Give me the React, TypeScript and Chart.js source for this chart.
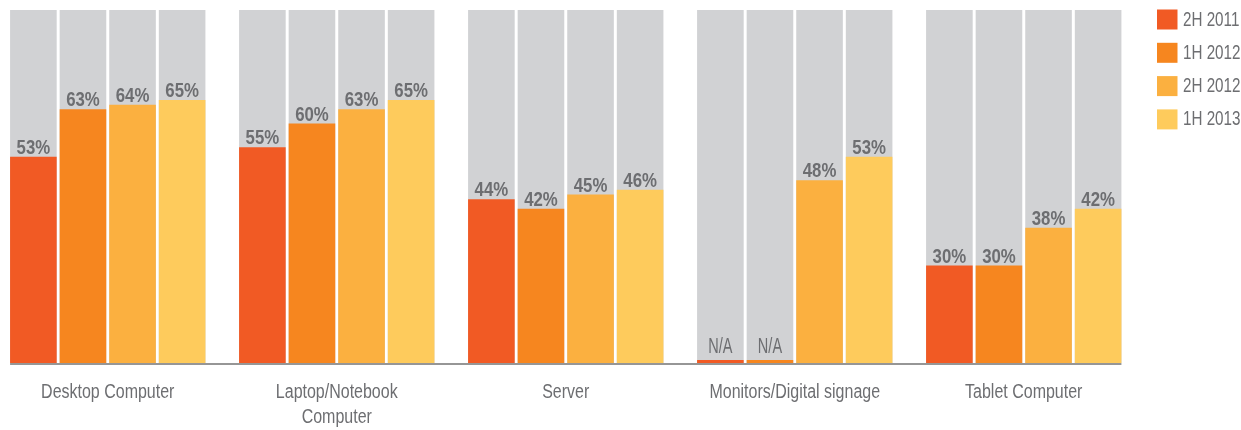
import React, { useEffect, useRef } from "react";
import { Chart, registerables } from "chart.js";

Chart.register(...registerables);

// ---- data ----
const categories: string[][] = [
  ["Desktop Computer"],
  ["Laptop/Notebook", "Computer"],
  ["Server"],
  ["Monitors/Digital signage"],
  ["Tablet Computer"],
];
const seriesNames = ["2H 2011", "1H 2012", "2H 2012", "1H 2013"];
const values2H2011: (number | null)[] = [53, 55, 44, null, 30];
const values1H2012: (number | null)[] = [63, 60, 42, null, 30];
const values2H2012: (number | null)[] = [64, 63, 45, 48, 38];
const values1H2013: (number | null)[] = [65, 65, 46, 53, 42];
const seriesValues = [values2H2011, values1H2012, values2H2012, values1H2013];

// visible value window of the value axis (the infographic's bars start above zero)
const Y_MIN = 9.4;
const Y_MAX = 84;

// ---- styles ----
const seriesColors = ["#F15A24", "#F6861F", "#FBB040", "#FECB5C"];
const trackColor = "#D1D2D4";
const textColor = "#6D6E71";
const FONT = "'Liberation Sans', Arial, sans-serif";
const CAT_PCT = 0.866;
const BAR_PCT = 0.94;
const SHIFT = 7; // canvas is placed 7px left of the page edge

function narrowText(ctx: CanvasRenderingContext2D, text: string, x: number, y: number, sx: number) {
  ctx.save();
  ctx.translate(x, y);
  ctx.scale(sx, 1);
  ctx.fillText(text, 0, 0);
  ctx.restore();
}

const labelPlugin = {
  id: "valueLabels",
  afterDatasetsDraw(chart: any) {
    const ctx = chart.ctx as CanvasRenderingContext2D;
    const area = chart.chartArea;
    const n = seriesValues.length;
    // axis line spanning the bar groups
    const firstMeta = chart.getDatasetMeta(0);
    const lastMeta = chart.getDatasetMeta(n - 1);
    const f = firstMeta.data[0] as any;
    const l = lastMeta.data[lastMeta.data.length - 1] as any;
    if (f && l) {
      ctx.save();
      ctx.strokeStyle = "rgba(110,110,110,0.72)";
      ctx.lineWidth = 2;
      ctx.beginPath();
      ctx.moveTo(f.x - f.width / 2, area.bottom + 1);
      ctx.lineTo(l.x + l.width / 2, area.bottom + 1);
      ctx.stroke();
      ctx.restore();
    }
    ctx.save();
    ctx.fillStyle = textColor;
    ctx.textAlign = "center";
    ctx.textBaseline = "alphabetic";
    // value labels
    seriesValues.forEach((vals, di) => {
      const meta = chart.getDatasetMeta(di);
      meta.data.forEach((el: any, i: number) => {
        const v = vals[i];
        if (v === null) {
          ctx.font = `22px ${FONT}`;
          narrowText(ctx, "N/A", el.x, el.y - 7, 0.66);
        } else {
          ctx.font = `bold 21px ${FONT}`;
          narrowText(ctx, `${v}%`, el.x, el.y - 3, 0.8);
        }
      });
    });
    // category labels
    const xScale = chart.scales.x;
    ctx.font = `19.5px ${FONT}`;
    ctx.textBaseline = "middle";
    categories.forEach((lines, i) => {
      const cx = xScale.getPixelForValue(i);
      lines.forEach((line, j) => {
        narrowText(ctx, line, cx, area.bottom + 29.5 + j * 25, 0.82);
      });
    });
    // legend
    const legendX = 1157 + SHIFT;
    const legendY = 9.5;
    const step = 33.3;
    ctx.font = `20px ${FONT}`;
    ctx.textAlign = "left";
    seriesNames.forEach((name, i) => {
      const top = legendY + i * step;
      ctx.fillStyle = seriesColors[i];
      ctx.fillRect(legendX, top, 20.5, 20);
      ctx.fillStyle = textColor;
      narrowText(ctx, name, legendX + 26, top + 10.5, 0.76);
    });
    ctx.restore();
  },
};

export default function App() {
  const canvasRef = useRef<HTMLCanvasElement | null>(null);

  useEffect(() => {
    if (!canvasRef.current) return;
    const valueSets = seriesValues.map((vals, i) => ({
      label: seriesNames[i],
      data: vals.map((v) => (v === null ? 0 : v)),
      backgroundColor: seriesColors[i],
      stack: "s" + i,
      categoryPercentage: CAT_PCT,
      barPercentage: BAR_PCT,
      minBarLength: 3,
      clip: 0,
      order: 0,
    }));
    const trackSets = seriesValues.map((vals, i) => ({
      label: seriesNames[i] + " track",
      data: vals.map(() => Y_MAX),
      backgroundColor: trackColor,
      stack: "s" + i,
      categoryPercentage: CAT_PCT,
      barPercentage: BAR_PCT,
      clip: 0,
      order: 1,
    }));
    const chart = new Chart(canvasRef.current, {
      type: "bar",
      data: {
        labels: categories.map((c) => c.join(" ")),
        datasets: [...valueSets, ...trackSets] as any,
      },
      options: {
        animation: false,
        responsive: true,
        maintainAspectRatio: false,
        layout: { padding: { left: 0.25, right: 102.75, top: 10, bottom: 67 } },
        plugins: {
          legend: { display: false },
          tooltip: { enabled: false },
        },
        scales: {
          x: {
            type: "category",
            offset: true,
            display: false,
            grid: { display: false },
          },
          y: {
            min: Y_MIN,
            max: Y_MAX,
            stacked: false,
            display: false,
          },
        },
      } as any,
      plugins: [labelPlugin],
    });
    return () => chart.destroy();
  }, []);

  return (
    <div style={{ position: "absolute", left: -SHIFT, top: 0, width: 1241 + SHIFT, height: 430 }}>
      <canvas ref={canvasRef} />
    </div>
  );
}
